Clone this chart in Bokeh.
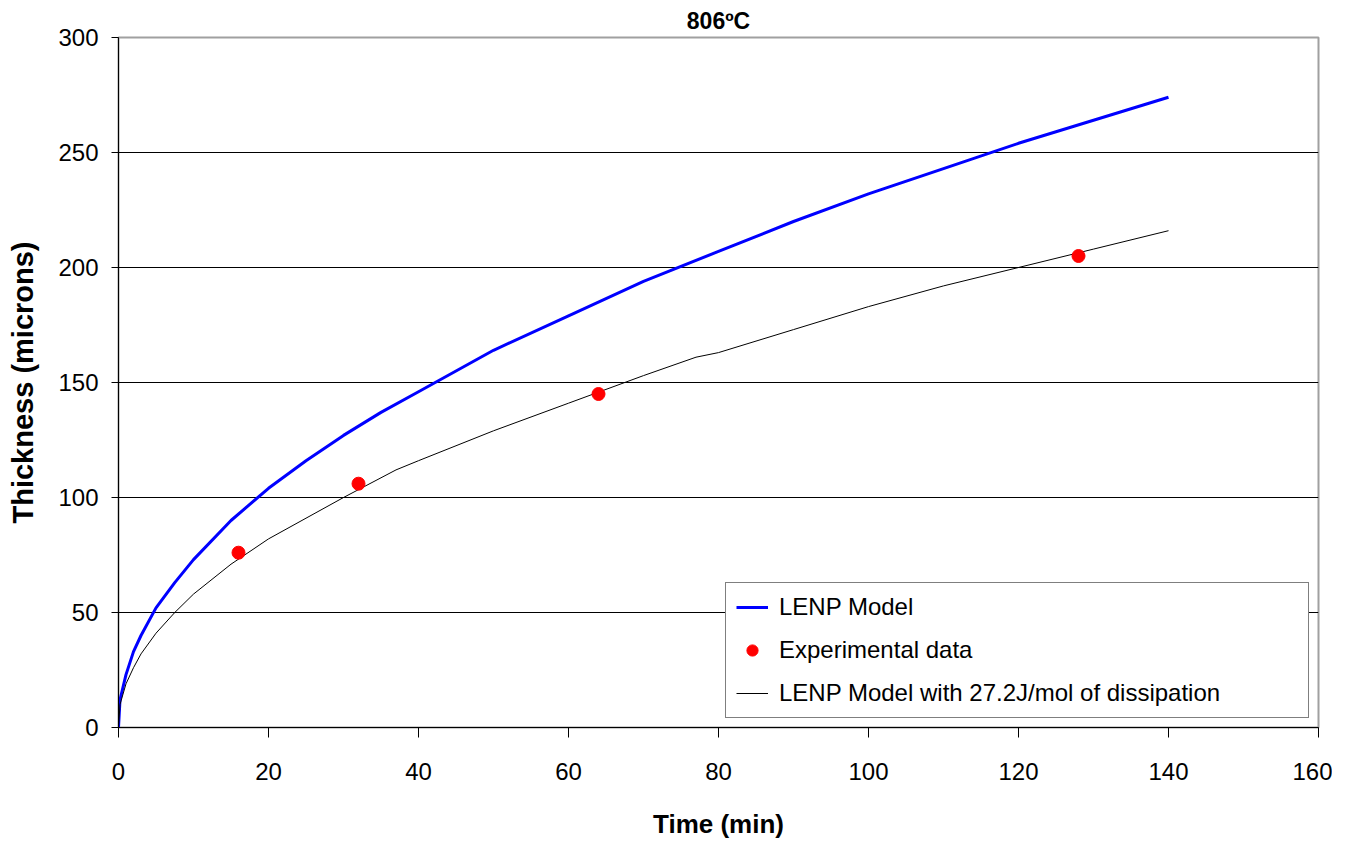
from bokeh.plotting import figure
from bokeh.models import Range1d, FixedTicker, Legend, LegendItem
from bokeh.embed import file_html
from bokeh.resources import INLINE

# LENP Model (blue)
lenp_t = [0, 0.2, 1, 2, 3, 5, 7.5, 10, 15, 20, 25, 30, 35, 40, 50, 60, 70, 80, 90, 100, 110, 120, 130, 140]
lenp_y = [0, 12, 23, 33, 40, 52, 63, 73, 90, 104, 116, 127, 137, 146, 164, 179, 194, 207, 220, 232, 243, 254, 264, 274]

# LENP Model with 27.2J/mol of dissipation (black)
diss_t = [0, 0.2, 1, 2, 3, 5, 7.5, 10, 15, 20, 25, 30, 37, 40, 50, 60, 70, 77, 80, 90, 100, 110, 120, 130, 140]
diss_y = [0, 10, 19, 26, 32, 41, 50, 58, 71, 82, 91, 100, 112, 116, 129, 141, 153, 161, 163, 173, 183, 192, 200, 208, 216]

# Experimental data (red)
exp_t = [16, 32, 64, 128]
exp_y = [76, 106, 145, 205]

x_ticks = [0, 20, 40, 60, 80, 100, 120, 140, 160]
y_ticks = [0, 50, 100, 150, 200, 250, 300]

FONT = "Liberation Sans"

p = figure(width=1332, height=846, output_backend="svg", toolbar_location=None,
           x_range=Range1d(0, 160), y_range=Range1d(0, 300),
           min_border_left=118, min_border_right=14, min_border_top=37, min_border_bottom=119)

p.title.text = "806\u00baC"
p.title.align = "center"
p.title.text_font = FONT
p.title.text_font_size = "23px"
p.title.text_font_style = "bold"
p.title.text_color = "black"
p.title.standoff = 8

p.background_fill_color = "white"
p.border_fill_color = "white"
p.outline_line_color = "#a0a0a0"
p.outline_line_width = 2

p.xgrid.grid_line_color = None
p.ygrid.grid_line_color = "black"
p.ygrid.grid_line_width = 1
p.ygrid.ticker = FixedTicker(ticks=y_ticks)

p.xaxis.ticker = FixedTicker(ticks=x_ticks)
p.yaxis.ticker = FixedTicker(ticks=y_ticks)

for ax in (p.xaxis[0], p.yaxis[0]):
    ax.axis_line_color = "black"
    ax.major_tick_line_color = "black"
    ax.minor_tick_line_color = None
    ax.major_tick_in = 0
    ax.major_label_text_font = FONT
    ax.major_label_text_font_size = "24px"
    ax.major_label_text_color = "black"
    ax.axis_label_text_font = FONT
    ax.axis_label_text_font_style = "bold"
    ax.axis_label_text_color = "black"

p.xaxis.axis_label = "Time (min)"
p.xaxis.axis_label_text_font_size = "26px"
p.yaxis.axis_label = "Thickness (microns)"
p.yaxis.axis_label_text_font_size = "29px"
p.xaxis.major_tick_out = 10
p.yaxis.major_tick_out = 7
p.xaxis.major_label_standoff = 25
p.yaxis.major_label_standoff = 13
p.xaxis.axis_label_standoff = 26
p.yaxis.axis_label_standoff = 16

r_lenp = p.line(lenp_t, lenp_y, line_color="#0000ff", line_width=3)
r_diss = p.line(diss_t, diss_y, line_color="black", line_width=1)
r_exp = p.scatter(exp_t, exp_y, size=13, fill_color="#ff0000", line_color="#ff0000")

legend = Legend(items=[
    LegendItem(label="LENP Model", renderers=[r_lenp]),
    LegendItem(label="Experimental data", renderers=[r_exp]),
    LegendItem(label="LENP Model with 27.2J/mol of dissipation", renderers=[r_diss]),
], location="bottom_right")
legend.margin = 9
legend.padding = 10
legend.spacing = 15
legend.glyph_width = 32
legend.glyph_height = 28
legend.label_height = 28
legend.label_width = 519
legend.label_standoff = 11
legend.label_text_font = FONT
legend.label_text_font_size = "24px"
legend.label_text_color = "black"
legend.border_line_color = "black"
legend.border_line_width = 1
legend.background_fill_color = "white"
legend.background_fill_alpha = 1
p.add_layout(legend)

open("out.html", "w").write(file_html(p, INLINE))
